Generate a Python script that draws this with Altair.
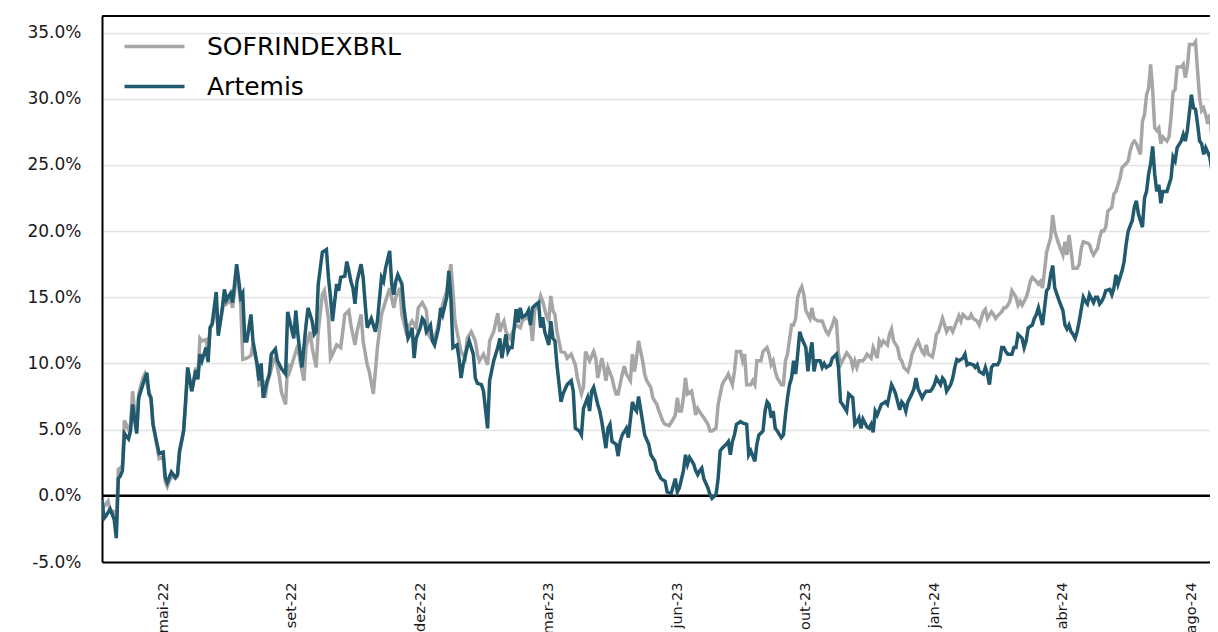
import altair as alt
import pandas as pd

SERIES = ["SOFRINDEXBRL", "Artemis"]
COLORS = ["#A6A6A6", "#215A6E"]

TICK_DAYS = [30, 93, 156, 219, 282, 345, 408, 471, 534]
TICK_LABELS = ["mai-22", "set-22", "dez-22", "mar-23", "jun-23", "out-23", "jan-24", "abr-24", "ago-24"]
Y_TICKS = [-5, 0, 5, 10, 15, 20, 25, 30, 35]

# (trading-day index, cumulative return in %)
SOFR = [(0,-0.5),(1,-0.8),(3,-0.4),(4,-1.1),(6,-1.2),(7,-2.4),(8,2.0),(9,2.1),(10,2.3),(11,5.7),(13,5.0),(14,5.4),(15,7.9),(17,5.0),(18,7.7),(20,8.9),(21,9.2),(23,7.9),(24,7.4),(25,5.4),(27,3.7),(28,2.8),(30,2.9),(31,1.1),(32,0.7),(34,1.5),(36,1.3),(37,1.5),(38,3.2),(40,4.9),(41,7.0),(42,9.5),(44,7.9),(46,9.7),(47,9.0),(48,11.9),(49,11.7),(51,11.8),(52,10.8),(53,12.7),(54,12.9),(56,14.5),(57,12.3),(59,14.0),(60,15.0),(61,14.5),(63,14.8),(64,14.2),(66,16.8),(67,15.8),(68,14.5),(69,10.3),(71,10.4),(73,10.6),(74,11.5),(76,9.8),(77,8.4),(79,8.6),(80,7.4),(81,8.5),(82,9.0),(84,10.2),(85,10.5),(87,8.9),(88,7.8),(90,6.9),(91,10.0),(92,9.4),(94,10.4),(96,11.4),(97,10.2),(99,8.7),(100,11.2),(102,12.4),(103,11.2),(105,9.7),(106,12.4),(108,15.2),(109,15.5),(111,13.4),(112,10.4),(113,10.7),(115,11.4),(117,11.2),(118,12.4),(119,13.7),(121,14.0),(122,12.9),(124,11.4),(125,12.4),(127,13.7),(128,11.7),(130,9.9),(131,9.4),(133,7.7),(134,9.4),(135,11.2),(137,13.7),(138,14.2),(140,15.2),(141,15.7),(143,14.2),(144,15.0),(146,15.7),(147,13.7),(149,12.4),(150,12.7),(152,13.2),(154,12.7),(155,14.2),(157,14.6),(159,14.0),(160,12.2),(162,11.7),(164,12.4),(166,13.7),(167,14.5),(169,15.5),(171,17.5),(172,15.5),(173,13.2),(174,12.4),(176,10.9),(178,10.4),(179,11.9),(181,12.4),(183,11.7),(184,10.7),(185,10.2),(187,10.7),(189,9.9),(190,11.7),(192,12.4),(194,13.8),(195,12.4),(196,12.9),(197,13.2),(198,12.4),(200,11.9),(201,12.3),(203,12.9),(205,12.7),(206,13.2),(208,13.5),(210,13.2),(211,11.7),(212,14.0),(214,14.5),(215,15.1),(216,14.7),(218,13.5),(219,13.2),(220,15.1),(221,14.0),(222,13.7),(223,12.4),(225,10.9),(227,10.8),(228,10.4),(230,10.7),(232,9.9),(233,8.9),(235,7.7),(236,8.2),(237,10.9),(239,10.2),(241,10.9),(242,10.4),(243,8.9),(245,10.4),(246,9.7),(247,8.7),(248,9.7),(250,8.9),(251,8.2),(252,7.7),(253,7.7),(255,9.2),(256,9.8),(257,9.2),(259,8.7),(260,10.7),(261,9.4),(262,10.4),(263,11.7),(265,10.2),(266,9.2),(267,8.7),(269,8.2),(270,7.4),(272,6.9),(273,6.4),(275,5.6),(276,5.4),(278,5.3),(280,5.8),(281,6.1),(282,7.4),(283,6.4),(284,6.4),(285,7.4),(286,8.9),(287,7.7),(289,7.9),(290,7.1),(291,6.1),(292,6.6),(294,6.1),(295,5.9),(297,5.4),(298,4.9),(299,4.9),(301,5.1),(302,6.9),(304,8.4),(305,8.7),(306,8.9),(307,9.2),(309,8.4),(310,9.4),(311,10.9),(313,10.9),(314,10.2),(315,10.7),(316,8.4),(318,8.4),(319,8.7),(320,8.4),(321,10.2),(323,10.2),(324,10.9),(326,11.2),(327,10.7),(328,9.9),(329,10.2),(330,9.4),(331,8.9),(333,8.4),(334,8.4),(335,10.2),(336,10.7),(338,12.9),(339,12.9),(340,13.4),(341,15.0),(342,15.5),(343,15.8),(344,15.2),(345,14.0),(347,13.4),(348,14.2),(349,13.4),(351,13.2),(353,13.2),(354,12.8),(355,12.4),(356,12.2),(358,12.9),(359,13.4),(360,13.2),(361,10.7),(362,9.9),(363,10.2),(365,10.8),(367,10.4),(368,9.7),(369,10.2),(370,9.7),(371,10.2),(373,10.2),(374,10.4),(375,10.7),(377,10.4),(378,11.2),(380,10.4),(381,11.7),(382,11.4),(383,11.7),(385,11.4),(386,12.2),(387,12.6),(388,11.7),(390,11.2),(391,10.4),(392,10.2),(393,9.7),(395,9.4),(396,9.9),(397,10.7),(399,11.4),(400,11.7),(402,10.9),(403,10.7),(404,11.4),(405,10.7),(407,10.5),(408,11.2),(409,12.2),(410,12.4),(412,13.4),(413,12.9),(414,12.4),(415,12.7),(416,12.7),(417,12.4),(419,13.2),(420,13.6),(421,13.2),(422,13.7),(424,13.4),(425,13.4),(426,13.7),(427,13.4),(429,13.2),(430,12.9),(431,13.4),(432,13.9),(433,14.1),(434,13.4),(436,13.9),(437,13.7),(438,13.4),(439,13.6),(441,13.9),(442,14.2),(443,14.2),(444,14.4),(445,14.7),(446,15.5),(448,15.0),(449,14.4),(450,14.7),(451,14.4),(453,15.0),(454,15.5),(455,16.2),(456,16.5),(458,16.2),(459,16.0),(460,16.2),(461,15.7),(462,17.0),(463,18.4),(465,19.5),(466,21.2),(467,20.0),(468,19.5),(469,19.0),(471,18.2),(472,19.2),(473,18.2),(474,19.7),(475,18.5),(476,17.2),(478,17.2),(479,17.5),(480,18.7),(481,19.2),(483,19.1),(484,19.0),(485,18.5),(486,18.2),(488,18.7),(489,19.5),(490,20.0),(491,20.0),(492,20.3),(493,21.5),(495,21.8),(496,22.8),(497,23.0),(498,23.5),(499,24.0),(500,24.8),(502,25.1),(503,25.3),(504,26.1),(505,26.6),(506,26.8),(507,26.6),(509,25.8),(510,28.3),(511,28.8),(512,30.3),(513,30.8),(514,32.6),(515,30.6),(516,27.8),(517,27.6),(518,27.8),(519,26.6),(520,27.1),(522,26.8),(523,27.1),(524,28.6),(525,30.5),(526,30.7),(527,32.4),(529,32.4),(530,32.6),(531,31.6),(532,32.4),(533,34.1),(535,34.1),(536,34.3),(537,32.1),(538,30.1),(539,29.1),(540,29.3),(541,28.8),(542,28.1),(543,28.8),(544,27.1),(545,31.3),(546,31.3)]

ARTEMIS = [(0,-0.3),(1,-1.7),(2,-1.5),(4,-1.0),(5,-1.4),(6,-1.8),(7,-3.2),(8,1.3),(9,1.5),(10,1.9),(11,4.7),(13,4.3),(14,4.9),(15,6.9),(17,4.7),(18,7.4),(20,8.4),(22,9.3),(23,7.7),(24,7.4),(25,5.4),(27,3.9),(28,3.2),(30,3.3),(31,1.4),(32,1.0),(34,1.8),(36,1.4),(37,1.6),(38,3.4),(40,4.9),(41,7.2),(42,9.7),(44,7.9),(46,9.5),(47,8.8),(48,10.7),(49,10.2),(51,11.2),(52,10.1),(53,12.7),(54,13.0),(56,15.4),(57,12.1),(59,14.2),(60,15.6),(61,14.8),(63,15.3),(64,14.6),(66,17.5),(67,16.3),(68,15.0),(69,15.3),(70,11.7),(71,11.7),(73,13.7),(74,11.7),(76,10.0),(77,8.7),(78,10.0),(79,7.4),(81,8.7),(82,9.2),(83,10.7),(85,11.1),(86,10.2),(88,9.6),(90,9.2),(91,13.9),(94,11.9),(95,14.0),(96,12.2),(97,10.9),(98,9.7),(100,12.9),(101,14.2),(103,13.2),(104,12.2),(105,12.4),(106,16.0),(108,18.4),(110,18.6),(111,16.5),(112,15.0),(113,13.2),(115,16.0),(116,15.5),(117,16.5),(119,16.6),(120,17.7),(121,17.0),(122,16.2),(123,15.7),(124,14.5),(125,16.2),(127,17.5),(128,16.5),(129,14.5),(130,12.7),(132,13.4),(133,12.9),(134,12.4),(135,13.2),(137,16.5),(138,16.2),(139,17.2),(141,18.5),(142,16.0),(143,15.2),(144,16.2),(145,16.7),(147,16.0),(148,14.2),(150,11.9),(151,12.2),(152,12.7),(153,10.4),(154,11.9),(156,12.7),(157,13.4),(158,13.2),(159,12.4),(161,12.9),(162,11.7),(163,11.4),(165,12.7),(166,14.2),(167,13.7),(169,15.0),(170,17.0),(171,15.0),(172,11.2),(174,11.4),(175,10.4),(176,8.9),(177,9.9),(179,11.2),(180,11.7),(182,10.7),(183,8.9),(184,8.5),(186,8.4),(187,7.9),(189,5.1),(190,8.7),(192,10.2),(194,11.2),(195,11.9),(196,10.4),(198,12.2),(199,10.9),(200,11.2),(201,11.2),(203,14.1),(204,13.1),(205,14.2),(206,13.5),(208,13.7),(209,14.0),(210,12.9),(211,14.2),(213,14.5),(214,14.6),(215,12.7),(216,13.5),(217,12.4),(219,11.4),(220,13.2),(221,11.9),(222,11.7),(223,9.9),(225,7.1),(226,7.7),(228,8.4),(230,8.7),(231,7.9),(232,5.1),(234,4.9),(235,4.6),(236,6.6),(238,7.4),(239,6.4),(240,7.9),(241,8.2),(243,6.9),(244,6.4),(245,5.6),(246,4.6),(247,3.6),(248,5.1),(249,5.4),(250,4.1),(252,3.9),(253,3.0),(254,4.1),(255,4.6),(257,5.1),(258,4.4),(260,7.1),(261,6.6),(262,6.4),(263,7.5),(265,5.6),(266,4.6),(268,3.9),(269,3.1),(271,2.6),(272,1.9),(274,1.3),(276,1.1),(277,0.3),(279,0.2),(281,1.3),(282,0.3),(283,0.6),(285,1.9),(286,3.1),(287,2.4),(288,2.9),(290,2.4),(291,1.9),(292,1.6),(293,1.9),(294,2.1),(295,1.3),(297,0.6),(298,0.1),(299,-0.2),(301,0.1),(302,1.3),(303,3.4),(304,3.6),(306,3.9),(307,4.1),(308,3.1),(309,4.1),(310,4.6),(311,5.4),(313,5.6),(314,5.5),(316,5.4),(317,3.1),(318,3.4),(320,2.6),(321,3.9),(322,4.6),(324,4.9),(325,6.4),(326,7.1),(327,6.9),(328,5.9),(329,6.4),(330,5.1),(331,4.9),(333,4.4),(334,4.6),(335,6.1),(336,7.4),(337,8.4),(338,8.9),(339,10.2),(340,9.2),(341,10.7),(342,12.4),(343,11.9),(345,11.2),(346,9.4),(347,10.7),(348,11.6),(349,9.4),(350,10.2),(352,10.2),(353,9.7),(354,10.0),(355,9.7),(357,9.9),(358,10.4),(360,10.7),(361,9.7),(362,7.1),(363,6.9),(365,6.4),(366,7.7),(368,7.4),(369,5.4),(370,5.6),(371,5.9),(372,5.1),(373,5.8),(375,5.2),(376,5.1),(377,5.4),(378,4.8),(379,6.4),(380,6.1),(382,6.9),(383,7.0),(384,7.1),(385,6.9),(387,8.4),(388,8.1),(389,7.7),(390,7.1),(391,6.5),(392,7.1),(393,6.9),(394,6.4),(395,7.1),(397,7.7),(398,8.1),(399,8.9),(400,8.1),(402,7.4),(403,7.7),(404,7.9),(406,7.9),(407,8.1),(408,8.4),(409,8.9),(411,8.4),(412,8.9),(413,8.7),(414,7.9),(416,8.4),(417,8.9),(418,9.7),(419,10.3),(420,10.2),(422,10.4),(423,10.7),(424,9.9),(425,10.0),(427,9.9),(428,9.7),(429,9.9),(430,9.4),(432,9.2),(433,9.7),(434,9.2),(435,8.4),(436,9.7),(437,9.9),(439,9.9),(440,10.2),(441,11.2),(442,11.2),(443,10.9),(444,10.7),(446,10.7),(447,11.2),(448,11.2),(449,12.2),(451,11.9),(452,11.2),(453,11.7),(454,12.7),(456,12.9),(457,13.4),(458,13.7),(459,14.2),(461,12.9),(462,14.2),(463,15.5),(464,15.7),(465,16.7),(466,17.4),(467,15.7),(469,14.8),(471,14.0),(472,12.9),(473,12.6),(474,12.9),(475,12.4),(476,12.2),(477,11.9),(478,12.4),(479,13.2),(481,15.0),(482,14.7),(483,14.5),(484,15.2),(486,14.6),(487,15.0),(488,15.0),(489,14.5),(490,14.7),(491,15.0),(492,15.5),(494,15.6),(495,15.2),(496,15.7),(497,16.7),(498,16.0),(500,17.0),(501,17.7),(502,19.0),(503,20.0),(505,20.8),(506,21.8),(507,22.3),(508,21.3),(510,20.3),(511,22.5),(512,23.0),(513,24.3),(514,25.1),(515,26.4),(516,24.3),(517,23.0),(518,23.5),(519,22.1),(520,23.0),(522,23.0),(523,23.5),(524,24.0),(525,25.6),(526,25.3),(527,26.3),(529,26.8),(530,27.3),(531,26.8),(532,27.6),(534,30.3),(535,29.3),(536,29.2),(537,28.1),(538,26.8),(539,26.6),(540,25.8),(541,26.3),(543,25.6),(544,24.6),(545,27.3),(546,27.8)]

rows = []
for name, pts in ((SERIES[0], SOFR), (SERIES[1], ARTEMIS)):
    for d, v in pts:
        rows.append({"day": d, "ret": v, "series": name})
df = pd.DataFrame(rows)

label_expr = " : ".join(
    f"datum.value == {d} ? '{lab}'" for d, lab in zip(TICK_DAYS, TICK_LABELS)
) + " : ''"

FONT = "DejaVu Sans"

x_enc = alt.X(
    "day:Q",
    scale=alt.Scale(domain=[0, 543.1], nice=False, zero=False),
    axis=alt.Axis(
        values=TICK_DAYS, labelExpr=label_expr, labelAngle=270, title=None,
        ticks=False, grid=False, domainColor="black", domainWidth=2,
        labelPadding=20, labelFontSize=14.5, labelFont=FONT, labelColor="#1A1A1A",
    ),
)
y_enc = alt.Y(
    "ret:Q",
    scale=alt.Scale(domain=[-5, 36.25], nice=False, zero=False),
    axis=alt.Axis(
        values=Y_TICKS,
        labelExpr="(datum.value < 0 ? '-' : '') + format(abs(datum.value), '.1f') + '%'",
        title=None, ticks=False, grid=True, gridColor="#E3E3E3", gridWidth=1.5,
        domainColor="black", domainWidth=2, labelPadding=21,
        labelFontSize=17, labelFont=FONT, labelColor="#1A1A1A",
    ),
)
color_enc = alt.Color(
    "series:N",
    scale=alt.Scale(domain=SERIES, range=COLORS),
    legend=alt.Legend(
        title=None, orient="none", legendX=40, legendY=18,
        symbolType="M-3,0L3,0", symbolSize=400, symbolStrokeWidth=3.4,
        labelFontSize=25, labelFont=FONT, labelColor="black", labelLimit=0,
        rowPadding=14, labelOffset=40, padding=0,
    ),
)

zero_df = pd.DataFrame({"ret": [0]})
zero_line = alt.Chart(zero_df).mark_rule(color="black", strokeWidth=2.6).encode(y=y_enc)
top_border = alt.Chart(zero_df).mark_rule(color="black", strokeWidth=2).encode(y=alt.value(0))

sofr_line = alt.Chart(df[df["series"] == SERIES[0]]).mark_line(strokeWidth=3.5, clip=True).encode(
    x=x_enc, y=y_enc, color=color_enc
)
art_line = alt.Chart(df[df["series"] == SERIES[1]]).mark_line(strokeWidth=3.5, clip=True).encode(
    x=x_enc, y=y_enc, color=color_enc
)

chart = alt.layer(zero_line, sofr_line, art_line, top_border).properties(
    width=1108, height=546,
    padding={"left": 94, "top": 8, "right": 0, "bottom": 80},
    autosize=alt.AutoSizeParams(type="none"),
    background="white",
).configure_view(stroke=None)

chart.save("out.html", embed_options={"renderer": "svg", "actions": False})
